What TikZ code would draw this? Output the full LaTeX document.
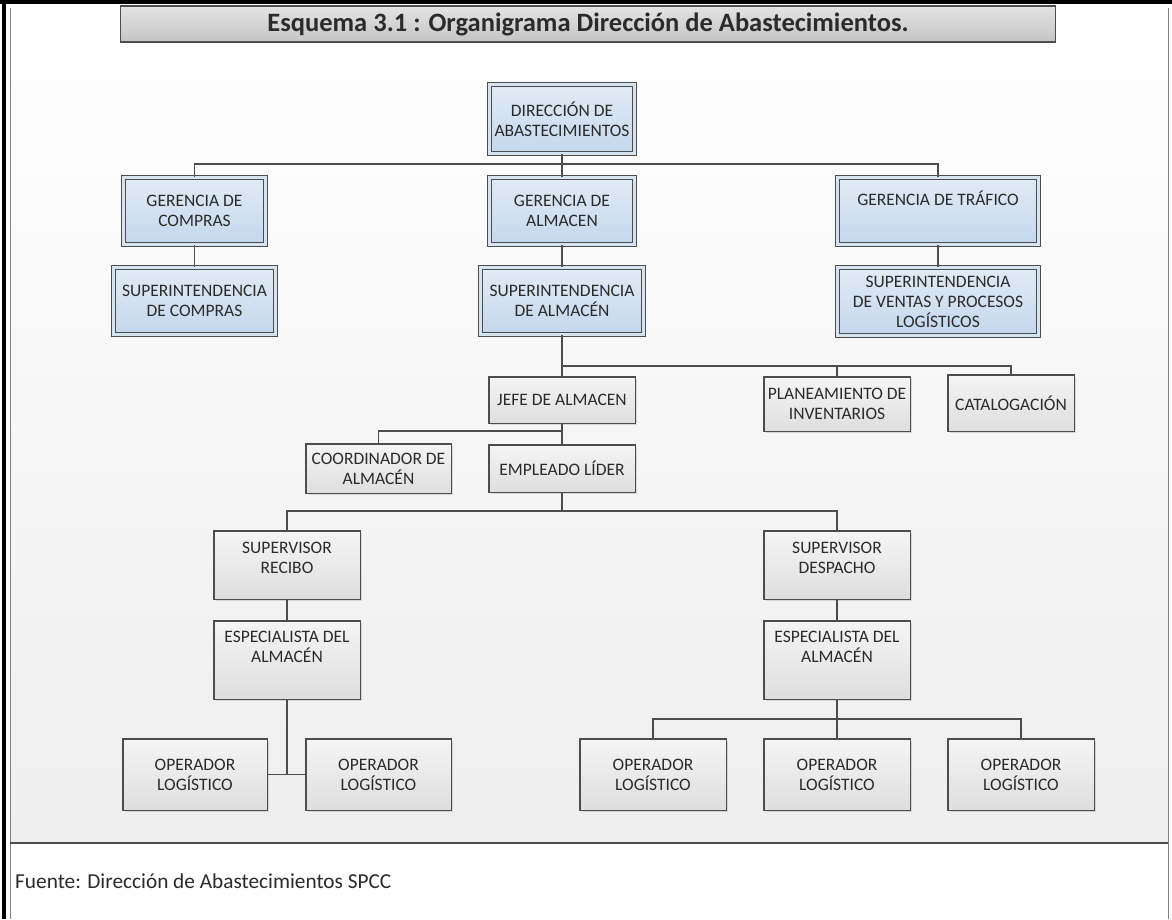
\documentclass[tikz,border=0pt]{standalone}
\usepackage{fontspec}
\setmainfont{Carlito}
\usetikzlibrary{shadows}

\definecolor{linec}{HTML}{4D4D4D}
\definecolor{txt}{HTML}{2B2B2B}
\definecolor{bluetop}{HTML}{E2EBF5}
\definecolor{bluebot}{HTML}{C4D7ED}
\definecolor{bluegap}{HTML}{D6E3F1}
\definecolor{greytop}{HTML}{F5F5F5}
\definecolor{greybot}{HTML}{DEDEDE}
\definecolor{titletop}{HTML}{E4E4E4}
\definecolor{titlebot}{HTML}{C4C4C4}
\definecolor{bgbot}{HTML}{EEEEEE}

\begin{document}
\begin{tikzpicture}[x=1pt,y=-1pt,
  conn/.style={draw=linec,line width=1.6pt},
  boxtext/.style={align=center,text=txt,inner sep=0pt,
    font=\fontsize{17.5}{20}\selectfont},
  bluebox/.style={boxtext,draw=linec,line width=1.2pt,double=bluegap,
    double distance=2.4pt,top color=bluetop,bottom color=bluebot,
    drop shadow={shadow xshift=2pt,shadow yshift=-2pt,opacity=0.25}},
  greybox/.style={boxtext,draw=linec,line width=1.5pt,
    top color=greytop,bottom color=greybot,
    drop shadow={shadow xshift=2pt,shadow yshift=-2pt,opacity=0.25}}
]
\useasboundingbox (0,0) rectangle (1172,919);

% page background, diagram area and footer
\fill[white] (0,0) rectangle (1172,919);
\shade[top color=white,bottom color=bgbot] (10,8) rectangle (1168,843);
\draw[linec!70,line width=1pt] (10,8) -- (10,919);
\draw[linec!70,line width=1pt] (1168,8) -- (1168,919);
\draw[linec,line width=1.2pt] (10,843) -- (1168,843);
\draw[black,line width=4pt] (0,2) -- (1172,2);
\draw[black,line width=4pt] (4,0) -- (4,919);

% title banner
\node[draw=linec,line width=1.2pt,top color=titletop,bottom color=titlebot,
  minimum width=935pt,minimum height=36pt,inner sep=0pt,
  font=\fontsize{26.5}{30}\selectfont\bfseries,text=txt]
  (title) at (588,24) {Esquema 3.1 : Organigrama Dirección de Abastecimientos.};

% footer
\node[anchor=west,inner sep=0pt,font=\fontsize{21.3}{24}\selectfont,text=txt]
  (fuente) at (15,881) {Fuente: Dirección de Abastecimientos SPCC};

% management boxes
\node[bluebox,minimum width=145.2pt,minimum height=69.2pt] (dir) at (562,119)
  {DIRECCIÓN DE\\ABASTECIMIENTOS};
\node[bluebox,minimum width=142.2pt,minimum height=67.2pt] (gcom) at (194.5,211)
  {GERENCIA DE\\COMPRAS};
\node[bluebox,minimum width=145.2pt,minimum height=67.2pt] (galm) at (562,211)
  {GERENCIA DE\\ALMACEN};
\node[bluebox,minimum width=201.2pt,minimum height=67.2pt] (gtra) at (938,211)
  {GERENCIA DE TRÁFICO\\\strut};
\node[bluebox,minimum width=162.2pt,minimum height=67.2pt] (scom) at (194.5,301)
  {SUPERINTENDENCIA\\DE COMPRAS};
\node[bluebox,minimum width=163.2pt,minimum height=67.2pt] (salm) at (562,301)
  {SUPERINTENDENCIA\\DE ALMACÉN};
\node[bluebox,minimum width=201.2pt,minimum height=68.2pt] (sven) at (938,301.5)
  {SUPERINTENDENCIA\\DE VENTAS Y PROCESOS\\LOGÍSTICOS};

% warehouse boxes
\node[greybox,minimum width=146.5pt,minimum height=46.5pt] (jefe) at (562,400)
  {JEFE DE ALMACEN};
\node[greybox,minimum width=146.5pt,minimum height=54.5pt] (plan) at (837,404)
  {PLANEAMIENTO DE\\INVENTARIOS};
\node[greybox,minimum width=126.5pt,minimum height=56.5pt] (cat) at (1011,403)
  {CATALOGACIÓN};
\node[greybox,minimum width=145.5pt,minimum height=49.5pt] (coord) at (378.5,468.5)
  {COORDINADOR DE\\ALMACÉN};
\node[greybox,minimum width=146.5pt,minimum height=47.5pt] (emp) at (562,468.5)
  {EMPLEADO LÍDER};
\node[greybox,minimum width=146.5pt,minimum height=68.5pt] (srec) at (287,565)
  {SUPERVISOR\\RECIBO\\[-12pt]\strut};
\node[greybox,minimum width=146.5pt,minimum height=68.5pt] (sdes) at (837,565)
  {SUPERVISOR\\DESPACHO\\[-12pt]\strut};
\node[greybox,minimum width=146.5pt,minimum height=78.5pt] (esp1) at (287,660)
  {ESPECIALISTA DEL\\ALMACÉN\\\strut};
\node[greybox,minimum width=146.5pt,minimum height=78.5pt] (esp2) at (837,660)
  {ESPECIALISTA DEL\\ALMACÉN\\\strut};
\node[greybox,minimum width=144.5pt,minimum height=71.5pt] (op1) at (195,774.5)
  {OPERADOR\\LOGÍSTICO};
\node[greybox,minimum width=145.5pt,minimum height=71.5pt] (op2) at (378.5,774.5)
  {OPERADOR\\LOGÍSTICO};
\node[greybox,minimum width=146.5pt,minimum height=71.5pt] (op3) at (653,774.5)
  {OPERADOR\\LOGÍSTICO};
\node[greybox,minimum width=146.5pt,minimum height=71.5pt] (op4) at (837,774.5)
  {OPERADOR\\LOGÍSTICO};
\node[greybox,minimum width=146.5pt,minimum height=71.5pt] (op5) at (1021,774.5)
  {OPERADOR\\LOGÍSTICO};

% bus levels
\coordinate (b1) at (0,164);
\coordinate (b2) at (0,366);
\coordinate (b3) at (0,431);
\coordinate (b4) at (0,511);
\coordinate (b5) at (0,719);

% connectors
\draw[conn] (dir.south) -- (galm.north);
\draw[conn] (gcom.north) |- (gtra.north |- b1) -- (gtra.north);
\draw[conn] (gcom.south) -- (scom.north);
\draw[conn] (galm.south) -- (salm.north);
\draw[conn] (gtra.south) -- (sven.north);
\draw[conn] (salm.south) -- (jefe.north);
\draw[conn] (salm.south |- b2) -| (cat.north);
\draw[conn] (plan.north) -- (plan.north |- b2);
\draw[conn] (jefe.south) -- (emp.north);
\draw[conn] (jefe.south |- b3) -| (coord.north);
\draw[conn] (emp.south) -- (emp.south |- b4);
\draw[conn] (srec.north) |- (sdes.north |- b4) -- (sdes.north);
\draw[conn] (srec.south) -- (esp1.north);
\draw[conn] (sdes.south) -- (esp2.north);
\draw[conn] (esp1.south) -- (esp1.south |- op1.east);
\draw[conn] (op1.east) -- (op2.west);
\draw[conn] (esp2.south) -- (op4.north);
\draw[conn] (op3.north) |- (op5.north |- b5) -- (op5.north);
\end{tikzpicture}
\end{document}
